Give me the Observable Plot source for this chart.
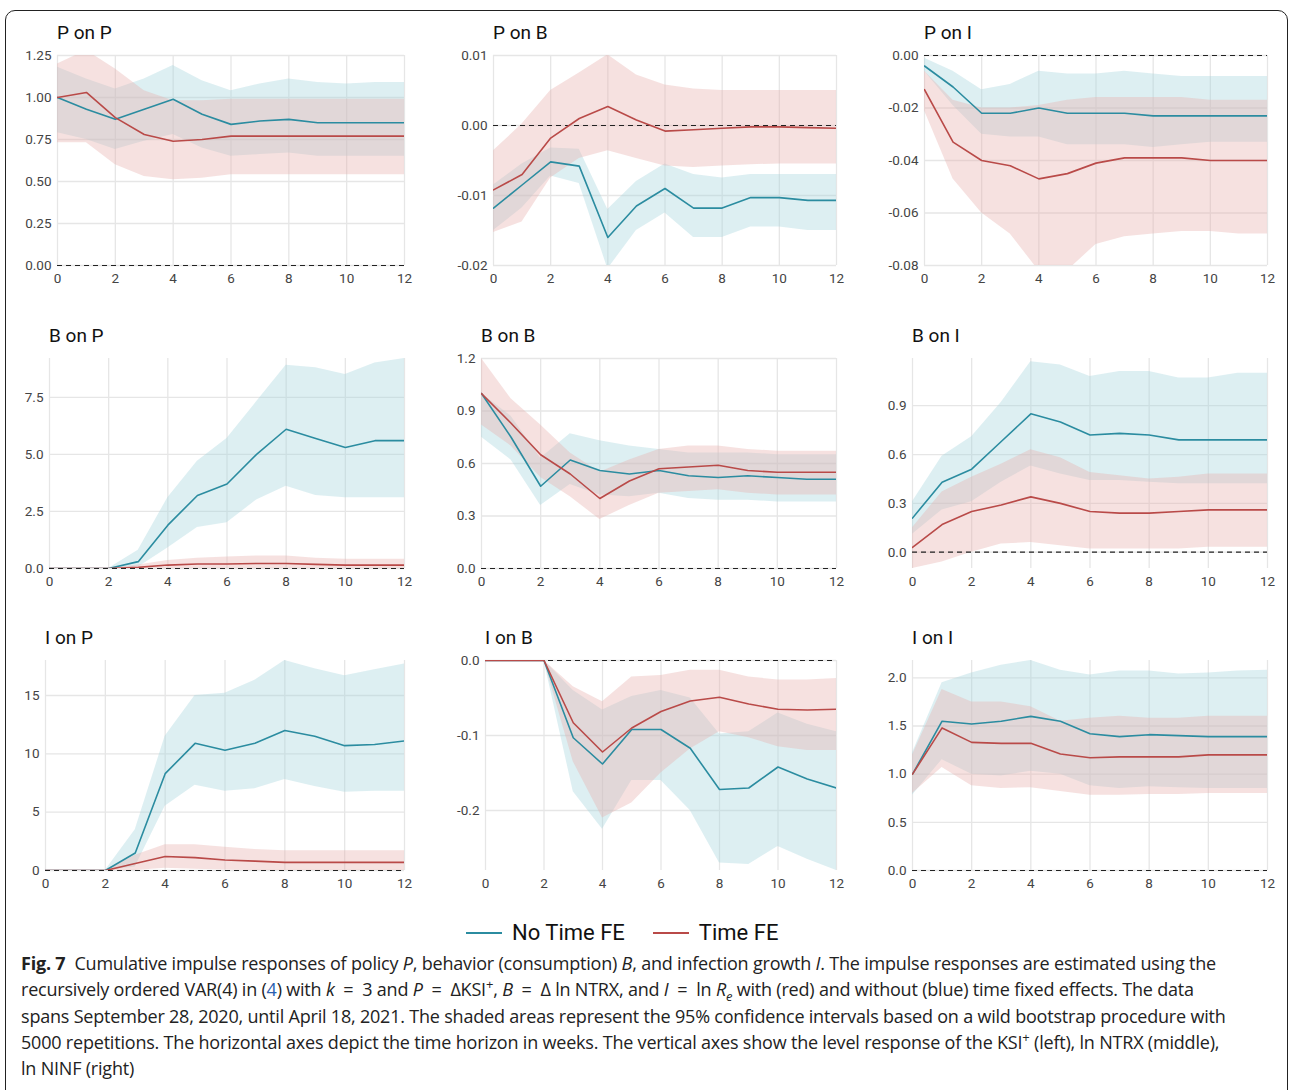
<!DOCTYPE html>
<html><head><meta charset="utf-8">
<script src="https://cdn.jsdelivr.net/npm/d3@7"></script>
<script src="https://cdn.jsdelivr.net/npm/@observablehq/plot@0.6"></script>
<style>
body{margin:0;background:#fff;font-family:Roboto,"Liberation Sans",sans-serif;}
#fig{position:relative;width:1290px;height:1090px;}
#frame{position:absolute;left:5px;top:10px;width:1283px;height:1090px;border:1px solid #222;border-radius:10px;box-sizing:border-box;}
.panel{position:absolute;}
.title{position:absolute;font-size:19px;color:#111;white-space:nowrap;}
#legend{position:absolute;top:920px;left:466px;font-size:22px;color:#111;display:flex;align-items:center;gap:10px;}
#legend .sw{display:inline-block;width:36px;height:2px;}
#caption{position:absolute;left:21px;top:950px;width:1220px;font-family:"Open Sans","Noto Sans",sans-serif;font-size:18px;line-height:26.3px;color:#222;letter-spacing:-0.2px;}
#caption sup,#caption sub{line-height:0;font-size:13px;}
</style></head><body>
<div id="fig"><div id="frame"></div>
<div id="legend"><span class="sw" style="background:#2b8ca0"></span><span style="margin-right:18px">No Time FE</span><span class="sw" style="background:#b94a48"></span><span>Time FE</span></div>
<div id="caption"><b>Fig. 7</b>&nbsp; Cumulative impulse responses of policy <i>P</i>, behavior (consumption) <i>B</i>, and infection growth <i>I</i>. The impulse responses are estimated using the recursively ordered VAR(4) in (<span style="color:#2b5fb0">4</span>) with <i>k</i>&ensp;=&ensp;3 and <i>P</i>&ensp;=&ensp;ΔKSI<sup>+</sup>, <i>B</i>&ensp;=&ensp;Δ ln NTRX, and <i>I</i>&ensp;=&ensp;ln <i>R<sub>e</sub></i> with (red) and without (blue) time fixed effects. The data spans September 28, 2020, until April 18, 2021. The shaded areas represent the 95% confidence intervals based on a wild bootstrap procedure with 5000 repetitions. The horizontal axes depict the time horizon in weeks. The vertical axes show the level response of the KSI<sup>+</sup> (left), ln NTRX (middle), ln&nbsp;NINF (right)</div>
</div>
<script>
const weeks = [0,1,2,3,4,5,6,7,8,9,10,11,12];

// P on P
const ppBlue   = [1.0,0.93,0.87,0.93,0.99,0.90,0.84,0.86,0.87,0.85,0.85,0.85,0.85];
const ppBlueHi = [1.18,1.11,1.05,1.11,1.19,1.10,1.04,1.08,1.11,1.09,1.08,1.09,1.09];
const ppBlueLo = [0.79,0.75,0.69,0.74,0.78,0.70,0.65,0.66,0.67,0.65,0.65,0.65,0.65];
const ppRed    = [1.0,1.03,0.88,0.78,0.74,0.75,0.77,0.77,0.77,0.77,0.77,0.77,0.77];
const ppRedHi  = [1.2,1.28,1.17,1.04,0.98,0.98,0.99,0.99,0.99,0.99,0.99,0.99,0.99];
const ppRedLo  = [0.73,0.73,0.60,0.53,0.51,0.52,0.54,0.54,0.54,0.54,0.54,0.54,0.54];
// P on B
const pbBlue   = [-0.0118,-0.0085,-0.0052,-0.0058,-0.0160,-0.0115,-0.0090,-0.0118,-0.0118,-0.0103,-0.0103,-0.0107,-0.0107];
const pbBlueHi = [-0.0085,-0.0055,-0.0032,-0.0034,-0.0120,-0.0080,-0.0055,-0.0070,-0.0075,-0.0070,-0.0070,-0.0070,-0.0070];
const pbBlueLo = [-0.0150,-0.0118,-0.0072,-0.0083,-0.0205,-0.0150,-0.0125,-0.0160,-0.0160,-0.0145,-0.0145,-0.0150,-0.0150];
const pbRed    = [-0.0092,-0.0070,-0.0018,0.0010,0.0027,0.0008,-0.0008,-0.0006,-0.0004,-0.0002,-0.0002,-0.0003,-0.0004];
const pbRedHi  = [-0.0036,0.0002,0.0050,0.0075,0.0101,0.0072,0.0058,0.0052,0.0050,0.0050,0.0050,0.0050,0.0050];
const pbRedLo  = [-0.0153,-0.0138,-0.0075,-0.0047,-0.0036,-0.0047,-0.0058,-0.0060,-0.0058,-0.0056,-0.0055,-0.0055,-0.0055];
// P on I
const piBlue   = [-0.004,-0.012,-0.022,-0.022,-0.020,-0.022,-0.022,-0.022,-0.023,-0.023,-0.023,-0.023,-0.023];
const piBlueHi = [-0.001,-0.006,-0.013,-0.011,-0.006,-0.007,-0.007,-0.006,-0.007,-0.008,-0.008,-0.008,-0.008];
const piBlueLo = [-0.006,-0.019,-0.030,-0.031,-0.031,-0.034,-0.034,-0.034,-0.035,-0.034,-0.033,-0.033,-0.033];
const piRed    = [-0.013,-0.033,-0.040,-0.042,-0.047,-0.045,-0.041,-0.039,-0.039,-0.039,-0.040,-0.040,-0.040];
const piRedHi  = [-0.006,-0.017,-0.020,-0.020,-0.019,-0.017,-0.016,-0.016,-0.016,-0.016,-0.017,-0.017,-0.017];
const piRedLo  = [-0.021,-0.047,-0.060,-0.068,-0.082,-0.082,-0.072,-0.069,-0.068,-0.067,-0.067,-0.068,-0.068];
// B on P
const bpBlue   = [0,0,0,0.3,1.9,3.2,3.7,5.0,6.1,5.7,5.3,5.6,5.6];
const bpBlueHi = [0,0,0,0.8,3.1,4.7,5.7,7.3,8.9,8.8,8.5,9.0,9.2];
const bpBlueLo = [0,0,0,0.05,0.9,1.8,2.0,3.0,3.6,3.2,3.1,3.1,3.1];
const bpRed    = [0,0,0,0.05,0.15,0.2,0.2,0.22,0.22,0.18,0.15,0.15,0.15];
const bpRedHi  = [0,0,0,0.15,0.35,0.45,0.5,0.55,0.55,0.45,0.4,0.4,0.4];
const bpRedLo  = [0,0,0,-0.02,0,0,0,0,0,0,0,0,0];
// B on B
const bbBlue   = [1.0,0.75,0.47,0.62,0.56,0.54,0.56,0.53,0.52,0.53,0.52,0.51,0.51];
const bbBlueHi = [1.0,0.87,0.63,0.77,0.73,0.70,0.68,0.66,0.66,0.66,0.65,0.65,0.65];
const bbBlueLo = [0.75,0.62,0.36,0.48,0.42,0.41,0.43,0.40,0.39,0.39,0.38,0.38,0.38];
const bbRed    = [1.0,0.83,0.65,0.54,0.40,0.50,0.57,0.58,0.59,0.56,0.55,0.55,0.55];
const bbRedHi  = [1.2,0.97,0.82,0.66,0.55,0.62,0.68,0.70,0.70,0.68,0.67,0.67,0.67];
const bbRedLo  = [0.82,0.70,0.52,0.41,0.28,0.36,0.43,0.44,0.45,0.43,0.42,0.42,0.42];
// B on I
const biBlue   = [0.21,0.43,0.51,0.68,0.85,0.80,0.72,0.73,0.72,0.69,0.69,0.69,0.69];
const biBlueHi = [0.31,0.59,0.71,0.92,1.17,1.15,1.08,1.11,1.11,1.07,1.07,1.10,1.10];
const biBlueLo = [0.11,0.26,0.31,0.43,0.53,0.48,0.44,0.44,0.43,0.42,0.42,0.42,0.42];
const biRed    = [0.03,0.17,0.25,0.29,0.34,0.30,0.25,0.24,0.24,0.25,0.26,0.26,0.26];
const biRedHi  = [0.15,0.37,0.46,0.54,0.63,0.58,0.49,0.47,0.45,0.46,0.48,0.48,0.48];
const biRedLo  = [-0.1,-0.06,0.0,0.05,0.06,0.04,0.02,0.02,0.02,0.02,0.03,0.03,0.03];
// I on P
const ipBlue   = [0,0,0,1.5,8.3,10.9,10.3,10.9,12.0,11.5,10.7,10.8,11.1];
const ipBlueHi = [0,0,0,3.5,11.5,15.0,15.2,16.3,18.0,17.3,16.7,17.2,17.7];
const ipBlueLo = [0,0,0,0.3,5.5,7.3,6.8,7.0,7.8,7.2,6.7,6.8,6.8];
const ipRed    = [0,0,0,0.6,1.2,1.1,0.9,0.8,0.7,0.7,0.7,0.7,0.7];
const ipRedHi  = [0,0,0,1.3,2.2,2.2,2.0,1.8,1.7,1.7,1.7,1.7,1.7];
const ipRedLo  = [0,0,0,0,0.2,0.1,0.05,0,0,0,0,0,0];
// I on B
const ibBlue   = [0,0,0,-0.103,-0.138,-0.092,-0.092,-0.117,-0.172,-0.170,-0.142,-0.158,-0.170];
const ibBlueHi = [0,0,0,-0.04,-0.066,-0.048,-0.04,-0.05,-0.098,-0.095,-0.07,-0.085,-0.095];
const ibBlueLo = [0,0,0,-0.175,-0.225,-0.160,-0.160,-0.200,-0.270,-0.272,-0.248,-0.265,-0.280];
const ibRed    = [0,0,0,-0.083,-0.122,-0.090,-0.068,-0.054,-0.049,-0.058,-0.065,-0.066,-0.065];
const ibRedHi  = [0,0,0,-0.035,-0.055,-0.022,-0.020,-0.013,-0.013,-0.022,-0.026,-0.026,-0.024];
const ibRedLo  = [0,0,0,-0.135,-0.21,-0.19,-0.15,-0.118,-0.095,-0.103,-0.115,-0.12,-0.12];
// I on I
const iiBlue   = [1.0,1.55,1.52,1.55,1.60,1.55,1.42,1.39,1.41,1.40,1.39,1.39,1.39];
const iiBlueHi = [1.22,1.95,2.05,2.13,2.18,2.08,2.03,2.07,2.07,2.04,2.05,2.07,2.08];
const iiBlueLo = [0.78,1.15,1.0,0.98,1.03,1.0,0.88,0.85,0.87,0.86,0.85,0.85,0.85];
const iiRed    = [1.0,1.48,1.33,1.32,1.32,1.21,1.17,1.18,1.18,1.18,1.20,1.20,1.20];
const iiRedHi  = [1.2,1.88,1.75,1.75,1.70,1.55,1.58,1.60,1.58,1.58,1.60,1.60,1.60];
const iiRedLo  = [0.8,1.07,0.88,0.85,0.86,0.82,0.78,0.78,0.79,0.79,0.80,0.80,0.80];

const panels = [
  {title:"P on P", s:[ppBlue,ppBlueLo,ppBlueHi,ppRed,ppRedLo,ppRedHi], dom:[0,1.25], ticks:[0,0.25,0.5,0.75,1,1.25], fmt:".2f", x:57, w:347, y:55},
  {title:"P on B", s:[pbBlue,pbBlueLo,pbBlueHi,pbRed,pbRedLo,pbRedHi], dom:[-0.02,0.01], ticks:[-0.02,-0.01,0,0.01], fmt:".2f", x:493, w:343, y:55},
  {title:"P on I", s:[piBlue,piBlueLo,piBlueHi,piRed,piRedLo,piRedHi], dom:[-0.08,0], ticks:[-0.08,-0.06,-0.04,-0.02,0], fmt:".2f", x:924, w:343, y:55},
  {title:"B on P", s:[bpBlue,bpBlueLo,bpBlueHi,bpRed,bpRedLo,bpRedHi], dom:[0,9.2], ticks:[0,2.5,5,7.5], fmt:".1f", x:49, w:355, y:358},
  {title:"B on B", s:[bbBlue,bbBlueLo,bbBlueHi,bbRed,bbRedLo,bbRedHi], dom:[0,1.2], ticks:[0,0.3,0.6,0.9,1.2], fmt:".1f", x:481, w:355, y:358},
  {title:"B on I", s:[biBlue,biBlueLo,biBlueHi,biRed,biRedLo,biRedHi], dom:[-0.1,1.19], ticks:[0,0.3,0.6,0.9], fmt:".1f", x:912, w:355, y:358},
  {title:"I on P", s:[ipBlue,ipBlueLo,ipBlueHi,ipRed,ipRedLo,ipRedHi], dom:[0,18], ticks:[0,5,10,15], fmt:"d", x:45, w:359, y:660},
  {title:"I on B", s:[ibBlue,ibBlueLo,ibBlueHi,ibRed,ibRedLo,ibRedHi], dom:[-0.28,0], ticks:[-0.2,-0.1,0], fmt:".1f", x:485, w:351, y:660},
  {title:"I on I", s:[iiBlue,iiBlueLo,iiBlueHi,iiRed,iiRedLo,iiRedHi], dom:[0,2.18], ticks:[0,0.5,1,1.5,2], fmt:".1f", x:912, w:355, y:660}
];

const fig = document.getElementById("fig");
const ML = 50, PH = 210, MT = 10, MB = 28;

for (const p of panels) {
  const [b, bl, bh, r, rl, rh] = p.s;
  const rows = weeks.map((w, i) => ({w, b: b[i], bl: bl[i], bh: bh[i], r: r[i], rl: rl[i], rh: rh[i]}));
  const f = d3.format(p.fmt);
  const plot = Plot.plot({
    width: ML + p.w + 14, height: MT + PH + MB,
    marginLeft: ML, marginRight: 14, marginTop: MT, marginBottom: MB,
    style: {fontFamily: "Roboto, 'Liberation Sans', sans-serif", fontSize: "13.5px", color: "#444"},
    x: {domain: [0, 12], ticks: [0,2,4,6,8,10,12], label: null, grid: true, tickSize: 0, tickPadding: 8},
    y: {domain: p.dom, ticks: p.ticks, label: null, grid: true, tickSize: 0, tickPadding: 6,
        tickFormat: d => f(d).replace("\u2212", "-")},
    marks: [
      Plot.areaY(rows, {x: "w", y1: "bl", y2: "bh", fill: "#a6d6dc", fillOpacity: 0.38, clip: true}),
      Plot.areaY(rows, {x: "w", y1: "rl", y2: "rh", fill: "#e8b1ae", fillOpacity: 0.38, clip: true}),
      Plot.ruleY([0], {stroke: "#222", strokeDasharray: "5 4", strokeWidth: 1.2}),
      Plot.line(rows, {x: "w", y: "b", stroke: "#2b8ca0", strokeWidth: 1.6, clip: true}),
      Plot.line(rows, {x: "w", y: "r", stroke: "#b94a48", strokeWidth: 1.6, clip: true})
    ]
  });
  plot.querySelectorAll("[aria-label^='x-grid'] line, [aria-label^='y-grid'] line").forEach(l => {
    l.setAttribute("stroke", "#e6e6e6"); l.setAttribute("stroke-opacity", "1"); l.setAttribute("stroke-width", "1.3");
  });
  const div = document.createElement("div");
  div.className = "panel";
  div.style.left = (p.x - ML) + "px";
  div.style.top = (p.y - MT) + "px";
  div.appendChild(plot);
  fig.appendChild(div);
  const t = document.createElement("div");
  t.className = "title";
  t.textContent = p.title;
  t.style.left = p.x + "px";
  t.style.top = (p.y - 34) + "px";
  fig.appendChild(t);
}
</script>
</body></html>
